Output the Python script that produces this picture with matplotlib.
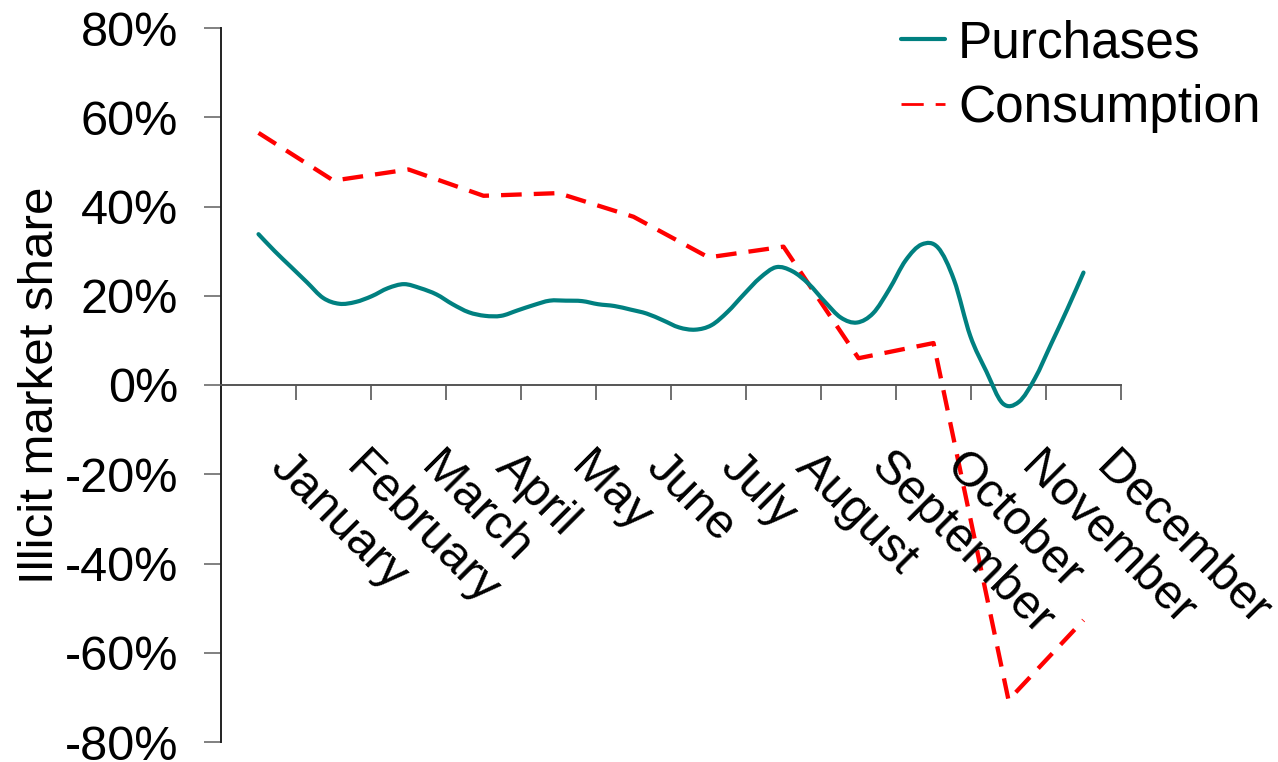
import matplotlib
matplotlib.use("Agg")
import matplotlib.pyplot as plt
from matplotlib.lines import Line2D
from matplotlib.path import Path
from matplotlib.patches import PathPatch
import numpy as np

plt.rcParams["font.family"] = ["Liberation Sans", "DejaVu Sans"]

months = ["January", "February", "March", "April", "May", "June", "July",
          "August", "September", "October", "November", "December"]

# monthly consumption-based illicit share (%)
consumption = [56.5, 45.8, 48.3, 42.4, 43.0, 37.7, 28.6, 31.0, 6.0, 9.4, -70.6, -52.7]

# weekly purchases-based illicit share (%)
purchases = [33.8, 30.0, 26.5, 23.0, 19.5, 18.2, 18.6, 19.9, 21.7, 22.6,
             21.7, 20.3, 18.1, 16.3, 15.5, 15.5, 16.7, 17.9, 18.9, 18.9,
             18.8, 18.1, 17.7, 16.9, 16.0, 14.5, 12.9, 12.4, 13.4, 16.4,
             20.3, 24.0, 26.4, 25.5, 22.7, 18.7, 15.1, 14.0, 16.1, 21.5,
             27.9, 31.5, 30.8, 23.5, 11.0, 3.0, -4.1, -3.8, 1.5, 9.2,
             17.0, 25.2]

yticks = [-80, -60, -40, -20, 0, 20, 40, 60, 80]

TEAL = "#008080"
RED = "#ff0000"


def smooth_path(x, y):
    """Bezier path through every point (spreadsheet-style smoothed line)."""
    pts = np.column_stack([x, y])
    n = len(pts)
    verts = [pts[0]]
    codes = [Path.MOVETO]
    for i in range(n - 1):
        p_prev = pts[max(i - 1, 0)]
        p0, p1 = pts[i], pts[i + 1]
        p_next = pts[min(i + 2, n - 1)]
        c1 = p0 + (p1 - p_prev) / 6.0
        c2 = p1 - (p_next - p0) / 6.0
        verts += [c1, c2, p1]
        codes += [Path.CURVE4] * 3
    return Path(verts, codes)


fig = plt.figure(figsize=(12.78, 7.62), dpi=100)
ax = fig.add_axes([221 / 1278, 1 - 742 / 762, 900 / 1278, 714 / 762])

month_pos = np.arange(len(months))
week_pos = np.linspace(0, len(months) - 1, len(purchases))

ax.add_patch(PathPatch(smooth_path(week_pos, purchases), facecolor="none",
                       edgecolor=TEAL, lw=3.0, capstyle="round",
                       joinstyle="round", zorder=3))
ax.plot(month_pos, consumption, color=RED, lw=3.1, linestyle=(0, (4.8, 2.8)),
        zorder=2)

ax.set_xlim(-0.5, len(months) - 0.5)
ax.set_ylim(-80, 80)

# spines: category axis crosses at zero
for side in ("top", "right"):
    ax.spines[side].set_visible(False)
ax.spines["bottom"].set_position(("data", 0))
ax.spines["left"].set_color("#222222")
ax.spines["bottom"].set_color("#555555")
ax.spines["left"].set_linewidth(1.4)
ax.spines["bottom"].set_linewidth(1.4)

ax.set_yticks(yticks)
ax.set_yticklabels([f"{v}%" for v in yticks])
ax.tick_params(axis="y", direction="out", length=12, width=1.4,
               color="#808080", labelsize=35, pad=19)

# category boundaries as ticks, names placed diagonally below
ax.set_xticks(np.arange(-0.5, len(months), 1.0))
ax.set_xticklabels([])
ax.tick_params(axis="x", direction="out", length=11, width=1.4, color="#707070")
for pos, name in zip(month_pos, months):
    ax.annotate(name, xy=(pos, 0), xytext=(35, -59), textcoords="offset pixels",
                rotation=-45, rotation_mode="anchor", ha="left", va="top",
                fontsize=35, annotation_clip=False)

ax.set_ylabel("Illicit market share", fontsize=35.5)
ax.yaxis.set_label_coords(-0.176, 0.5)

handles = [
    Line2D([], [], color=TEAL, lw=3.0, solid_capstyle="round"),
    Line2D([], [], color=RED, lw=2.0, linestyle=(0, (8, 4.3))),
]
fig.legend(handles, ["Purchases", "Consumption"], loc="upper left",
           bbox_to_anchor=(901 / 1278, 1 - 19 / 762), frameon=False,
           fontsize=37, borderpad=0, borderaxespad=0, handlelength=0.86,
           handletextpad=0.25, labelspacing=0.32)

fig.savefig("out.png", dpi=100)
